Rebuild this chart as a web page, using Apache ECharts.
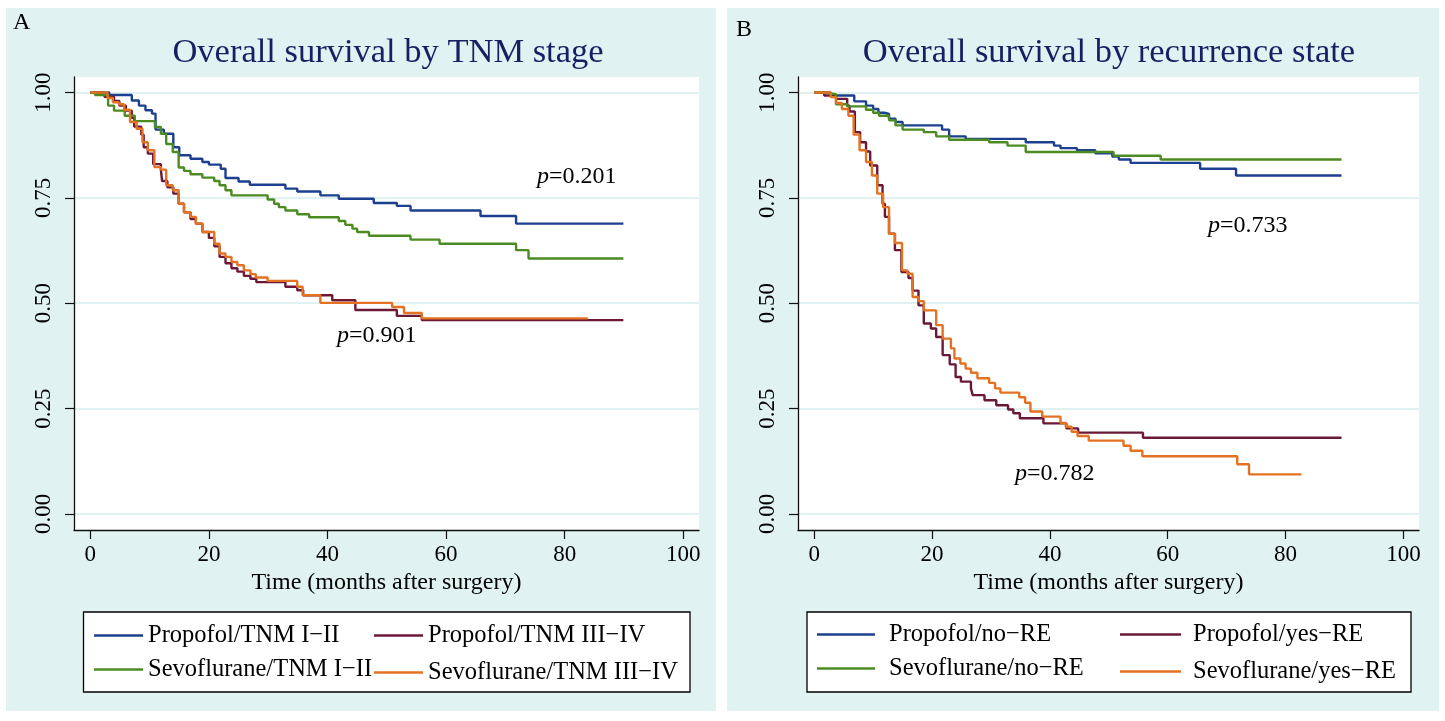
<!DOCTYPE html>
<html>
  <head>
    <meta charset="utf-8" />
    <script src="https://cdn.jsdelivr.net/npm/echarts@6/dist/echarts.min.js"></script>
    <style>
      html, body { margin: 0; padding: 0; background: #fff; }
      #main { width: 1445px; height: 721px; }
    </style>
  </head>
  <body>
    <div id="main"></div>
    <script type="text/javascript">
      // Kaplan-Meier steps: [months, survival]
      // panel A: by TNM stage
      const propofolTnm12 = [[0,1],[3.2,0.994],[7.0,0.981],[8.2,0.969],[9.3,0.958],[10.4,0.950],[11.0,0.912],[12.4,0.902],[14.0,0.870],[15.0,0.851],[16.9,0.843],[18.9,0.835],[20.0,0.829],[22.0,0.819],[22.8,0.797],[25.0,0.789],[26.9,0.781],[32.9,0.772],[34.9,0.765],[38.8,0.756],[41.9,0.748],[47.8,0.738],[51.7,0.731],[54.0,0.720],[65.8,0.707],[71.8,0.689],[89.9,0.689]];
      const propofolTnm34 = [[0,1],[2.4,0.990],[4.0,0.980],[4.9,0.969],[6.0,0.957],[7.0,0.940],[7.4,0.919],[8.6,0.900],[9.0,0.870],[9.7,0.855],[10.6,0.830],[11.9,0.817],[12.1,0.790],[13.0,0.775],[14.0,0.760],[14.9,0.736],[15.8,0.716],[16.9,0.700],[17.8,0.689],[18.9,0.669],[20.0,0.655],[20.9,0.635],[21.8,0.610],[22.8,0.595],[23.8,0.583],[24.8,0.575],[25.9,0.565],[27.0,0.558],[28.0,0.550],[32.9,0.539],[34.9,0.531],[35.9,0.519],[40.8,0.507],[44.7,0.484],[51.7,0.470],[55.9,0.460],[89.9,0.460]];
      const sevoTnm12 = [[0,1],[0.8,0.994],[3.0,0.969],[4.0,0.957],[5.8,0.945],[7.5,0.932],[10.9,0.918],[11.9,0.902],[12.8,0.878],[13.9,0.859],[14.9,0.822],[15.8,0.814],[16.9,0.806],[18.9,0.798],[20.9,0.790],[21.8,0.780],[22.8,0.768],[23.8,0.756],[29.9,0.746],[31.0,0.736],[31.8,0.728],[32.9,0.720],[34.9,0.711],[36.9,0.704],[41.9,0.695],[43.0,0.686],[44.2,0.677],[45.0,0.669],[47.0,0.660],[54.0,0.651],[58.9,0.641],[71.8,0.626],[73.9,0.606],[89.9,0.606]];
      const sevoTnm34 = [[0,1],[2.9,0.987],[3.8,0.977],[4.8,0.972],[5.7,0.959],[6.7,0.930],[7.8,0.914],[8.8,0.882],[9.7,0.863],[10.8,0.823],[11.9,0.817],[12.8,0.780],[13.9,0.768],[14.9,0.736],[15.8,0.716],[16.9,0.705],[17.8,0.689],[18.9,0.669],[20.9,0.641],[21.8,0.618],[22.8,0.610],[23.8,0.598],[24.8,0.590],[25.9,0.578],[27.0,0.569],[27.9,0.561],[29.9,0.553],[34.9,0.539],[35.8,0.519],[38.8,0.501],[50.9,0.491],[52.9,0.477],[55.9,0.464],[83.9,0.464]];

      // panel B: by recurrence state
      const propofolNoRe = [[0,1],[2.8,0.993],[6.8,0.979],[8.8,0.969],[10.0,0.961],[10.9,0.952],[11.9,0.949],[12.7,0.938],[13.8,0.930],[15.0,0.922],[21.7,0.912],[22.9,0.896],[25.7,0.890],[35.9,0.882],[40.7,0.874],[41.8,0.868],[44.6,0.863],[47.7,0.856],[50.6,0.848],[51.7,0.841],[53.7,0.833],[65.5,0.819],[71.6,0.803],[89.5,0.803]];
      const propofolYesRe = [[0,1],[1.7,0.993],[3.7,0.985],[5.6,0.969],[6.0,0.955],[6.9,0.906],[7.8,0.882],[8.8,0.860],[9.5,0.827],[10.7,0.780],[11.6,0.736],[12.0,0.705],[12.7,0.665],[13.7,0.626],[14.8,0.574],[16.0,0.560],[16.7,0.530],[17.7,0.495],[18.6,0.452],[19.8,0.440],[20.7,0.420],[21.8,0.377],[23.0,0.355],[24.0,0.325],[24.9,0.314],[26.6,0.298],[26.9,0.282],[28.9,0.270],[30.9,0.258],[32.9,0.248],[33.8,0.239],[34.9,0.227],[38.9,0.215],[42.8,0.203],[44.8,0.193],[55.8,0.181],[89.5,0.181]];
      const sevoNoRe = [[0,1],[1.4,0.996],[3.7,0.972],[5.6,0.967],[8.8,0.959],[10.0,0.952],[11.0,0.945],[12.7,0.934],[13.8,0.922],[15.0,0.912],[18.6,0.906],[20.7,0.896],[22.9,0.888],[29.7,0.882],[32.8,0.874],[35.9,0.859],[50.8,0.850],[58.8,0.841],[89.5,0.841]];
      const sevoYesRe = [[0,1],[2.8,0.989],[3.7,0.975],[4.7,0.961],[5.8,0.945],[6.7,0.900],[7.7,0.863],[8.8,0.835],[9.8,0.803],[10.7,0.760],[11.7,0.728],[12.7,0.665],[13.7,0.643],[14.9,0.578],[15.8,0.570],[16.7,0.515],[17.7,0.505],[18.6,0.483],[20.7,0.448],[21.8,0.416],[23.2,0.393],[23.8,0.369],[24.8,0.357],[25.7,0.345],[26.6,0.335],[27.7,0.322],[29.7,0.311],[30.7,0.298],[31.6,0.288],[34.8,0.277],[35.8,0.264],[36.7,0.243],[38.7,0.231],[41.8,0.216],[42.7,0.207],[43.7,0.195],[44.7,0.185],[46.6,0.174],[52.5,0.162],[53.7,0.150],[55.7,0.137],[71.8,0.118],[73.8,0.094],[82.7,0.094]];

      const xTicks = [0, 20, 40, 60, 80, 100];
      const yTicks = [0, 0.25, 0.5, 0.75, 1];
      const titles = ["Overall survival by TNM stage", "Overall survival by recurrence state"];
      const pValues = ["0.201", "0.901", "0.733", "0.782"];
      const namesA = ["Propofol/TNM I\u2212II", "Propofol/TNM III\u2212IV", "Sevoflurane/TNM I\u2212II", "Sevoflurane/TNM III\u2212IV"];
      const namesB = ["Propofol/no\u2212RE", "Propofol/yes\u2212RE", "Sevoflurane/no\u2212RE", "Sevoflurane/yes\u2212RE"];

      const BLUE = "#1c3f8f", MAROON = "#6b1838", GREEN = "#4b8b21", ORANGE = "#e37222";
      const FONT = "'Liberation Serif', 'Times New Roman', serif";
      const PANEL_BG = "#e0f2f1";

      var myChart = echarts.init(document.getElementById("main"));

      function makeXAxis(idx) {
        return {
          type: "value", gridIndex: idx, min: -2.75, max: 102.65,
          axisLine: { show: true, onZero: false, lineStyle: { color: "#111", width: 1.3 } },
          axisTick: { show: true, length: 9, customValues: xTicks, lineStyle: { color: "#111", width: 1.2 } },
          axisLabel: { customValues: xTicks, fontSize: 23, fontFamily: FONT, color: "#000", margin: 13 },
          splitLine: { show: false },
          name: "Time (months after surgery)", nameLocation: "middle", nameGap: 38,
          nameTextStyle: { fontSize: 24, fontFamily: FONT, color: "#000" }
        };
      }
      function makeYAxis(idx) {
        return {
          type: "value", gridIndex: idx, min: -0.038, max: 1.0368,
          axisLine: { show: true, onZero: false, lineStyle: { color: "#111", width: 1.3 } },
          axisTick: { show: true, length: 9, customValues: yTicks, lineStyle: { color: "#111", width: 1.2 } },
          axisLabel: { customValues: yTicks, rotate: 90, fontSize: 23, fontFamily: FONT, color: "#000", margin: 19,
            formatter: (v) => v.toFixed(2) },
          splitLine: { show: true, lineStyle: { color: "#d5ecec", width: 1.5 } }
        };
      }
      function km(name, data, color, idx) {
        return {
          name: name, type: "line", step: "end", data: data,
          xAxisIndex: idx, yAxisIndex: idx, symbol: "none",
          lineStyle: { color: color, width: 2.4 }, itemStyle: { color: color }
        };
      }
      function legendItem(name, left, cy, w, pad) {
        return {
          data: [name], left: left, top: cy - 12, orient: "horizontal", padding: 0,
          icon: "rect", itemWidth: w, itemHeight: 2.4, selectedMode: false,
          textStyle: { fontSize: 24.5, lineHeight: 24, fontFamily: FONT, color: "#000", padding: [0, 0, 0, pad] }
        };
      }
      function pText(x, y, val) {
        return {
          type: "text", x: x, y: y, z: 10,
          style: { text: "{i|p}=" + val, fontSize: 24, fontFamily: FONT, fill: "#000", verticalAlign: "middle",
            rich: { i: { fontStyle: "italic", fontSize: 24, fontFamily: FONT } } }
        };
      }

      const option = {
        animation: false,
        backgroundColor: "#fff",
        grid: [
          { left: 74, top: 77, width: 625, height: 453 },
          { left: 798, top: 77, width: 621, height: 453 }
        ],
        xAxis: [makeXAxis(0), makeXAxis(1)],
        yAxis: [makeYAxis(0), makeYAxis(1)],
        legend: [
          legendItem(namesA[0], 94, 635, 49, 0),
          legendItem(namesA[1], 374, 635, 49, 0),
          legendItem(namesA[2], 94, 669, 49, 0),
          legendItem(namesA[3], 374, 672, 49, 0),
          legendItem(namesB[0], 817, 634, 58, 9),
          legendItem(namesB[1], 1120, 634, 61, 7),
          legendItem(namesB[2], 817, 668, 58, 9),
          legendItem(namesB[3], 1120, 671, 61, 7)
        ],
        graphic: [
          { type: "rect", z: -10, shape: { x: 6, y: 8, width: 710, height: 703 }, style: { fill: PANEL_BG } },
          { type: "rect", z: -10, shape: { x: 727, y: 8, width: 712, height: 703 }, style: { fill: PANEL_BG } },
          { type: "rect", z: -9, shape: { x: 74, y: 77, width: 625, height: 453 }, style: { fill: "#fff" } },
          { type: "rect", z: -9, shape: { x: 798, y: 77, width: 621, height: 453 }, style: { fill: "#fff" } },
          { type: "rect", z: -9, shape: { x: 83.5, y: 612, width: 606.5, height: 80 }, style: { fill: "#fff", stroke: "#000", lineWidth: 1.3 } },
          { type: "rect", z: -9, shape: { x: 807, y: 612, width: 604, height: 80 }, style: { fill: "#fff", stroke: "#000", lineWidth: 1.3 } },
          { type: "text", x: 13, y: 23, z: 10, style: { text: "A", fontSize: 24, fontFamily: FONT, fill: "#000", verticalAlign: "middle" } },
          { type: "text", x: 736, y: 30, z: 10, style: { text: "B", fontSize: 24, fontFamily: FONT, fill: "#000", verticalAlign: "middle" } },
          { type: "text", x: 388, y: 53, z: 10, style: { text: titles[0], fontSize: 34.5, fontFamily: FONT, fill: "#1a1f63", align: "center", verticalAlign: "middle" } },
          { type: "text", x: 1109, y: 53, z: 10, style: { text: titles[1], fontSize: 34.5, fontFamily: FONT, fill: "#1a1f63", align: "center", verticalAlign: "middle" } },
          pText(537, 177, pValues[0]),
          pText(337, 336, pValues[1]),
          pText(1208, 226, pValues[2]),
          pText(1015, 474, pValues[3])
        ],
        series: [
          km(namesA[0], propofolTnm12, BLUE, 0),
          km(namesA[1], propofolTnm34, MAROON, 0),
          km(namesA[2], sevoTnm12, GREEN, 0),
          km(namesA[3], sevoTnm34, ORANGE, 0),
          km(namesB[0], propofolNoRe, BLUE, 1),
          km(namesB[1], propofolYesRe, MAROON, 1),
          km(namesB[2], sevoNoRe, GREEN, 1),
          km(namesB[3], sevoYesRe, ORANGE, 1)
        ]
      };

      myChart.setOption(option);
    </script>
  </body>
</html>
